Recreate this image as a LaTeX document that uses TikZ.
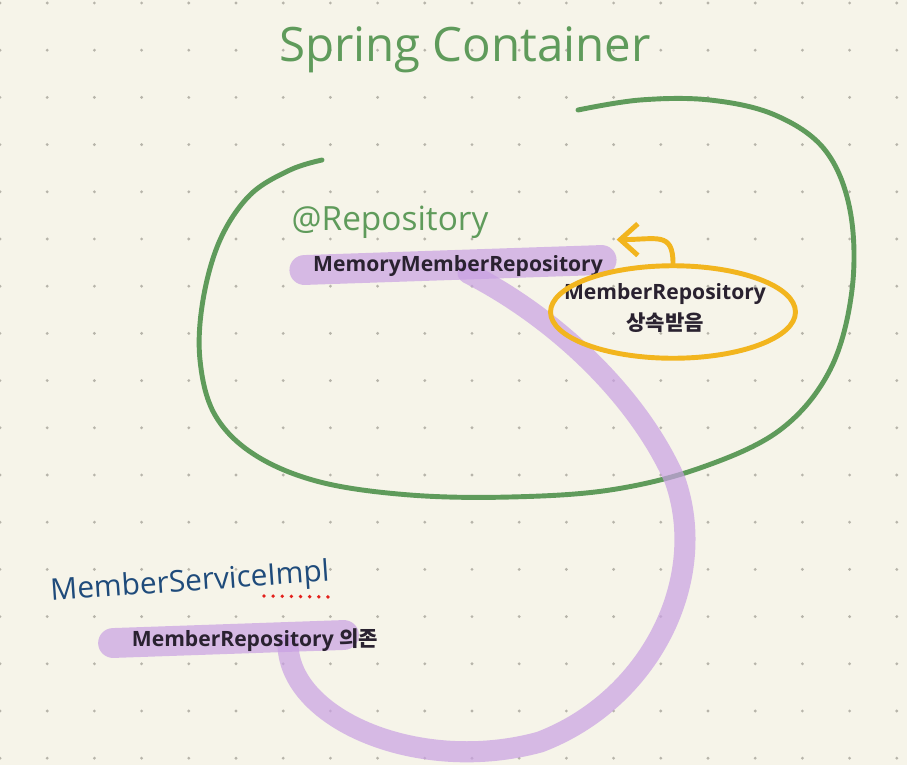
\documentclass[tikz,border=0pt]{standalone}
\usepackage{fontspec}
\setmainfont{Open Sans}
\newfontfamily\kofont{Noto Sans CJK KR}
\usetikzlibrary{arrows.meta,positioning,calc,shapes.geometric}
\definecolor{paper}{HTML}{F6F4E9}
\definecolor{griddot}{HTML}{B7B4AA}
\definecolor{springgreen}{HTML}{5F9B5B}
\definecolor{inkdark}{HTML}{2A2230}
\definecolor{hlpurple}{HTML}{C9A0E3}
\definecolor{inhyellow}{HTML}{F2B51E}
\definecolor{implblue}{HTML}{1F4B7B}
\definecolor{typored}{HTML}{E3201B}
\pgfdeclarelayer{paperlayer}
\pgfsetlayers{paperlayer,main}

\begin{document}
\begin{tikzpicture}[x=0.02cm,y=-0.02cm,
  ink/.style={text=inkdark,font=\bfseries\fontsize{12}{18}\selectfont,inner sep=2pt},
  hl/.style={draw=hlpurple,draw opacity=0.7,line cap=round},
  pen/.style={line width=2.8pt,line cap=round,line join=round}]
  \useasboundingbox (0,0) rectangle (907,765);

  % labels
  \node[font=\fontsize{27}{30}\selectfont,text=springgreen] (title) at (465,50) {Spring Container};
  \node[font=\fontsize{19}{22}\selectfont,text=springgreen] (repoTag) at (390,222) {@Repository};
  \node[ink] (memRepo) at (458,266) {MemoryMemberRepository};
  \node[ink,align=center] (inhText) at (665,308) {MemberRepository\\{\kofont 상속받음}};
  \node[font=\fontsize{17}{20}\selectfont,text=implblue,rotate=4] (svcImpl) at (190,583) {MemberServiceImpl};
  \node[ink] (depRepo) at (255,640) {MemberRepository {\kofont 의존}};

  % inherits MemberRepository
  \node[ellipse,draw=inhyellow,pen,minimum width=4.9cm,minimum height=1.85cm] (inhLoop) at (673,312) {};
  \draw[inhyellow,pen,-{Straight Barb[length=10pt,width=18pt]}] (inhLoop.north)
    .. controls +(0,-32) and +(40,0) .. ($(memRepo.north east)+(10,-12)$);

  % typo mark
  \draw[typored,line width=2.2pt,line cap=round,dash pattern=on 0pt off 5.2pt] (264,596) -- (334,597);

  \begin{pgfonlayer}{paperlayer}
    \fill[paper] (0,0) rectangle (907,765);
    \foreach \i in {0,...,19}
      \foreach \j in {0,...,16}
        \fill[griddot] (47.2*\i,3+47.2*\j) circle (0.9pt);

    % container
    \draw[springgreen,pen] plot[smooth,tension=0.6] coordinates {
      (322,160) (290,170) (250,195) (220,240) (203,300) (200,360) (215,415)
      (255,455) (320,482) (410,495) (510,497) (610,490) (700,468) (780,430)
      (830,370) (852,290) (850,210) (825,150) (775,115) (710,100) (640,100) (578,110)};

    % highlighter strokes
    \draw[hl,line width=17pt] ($(memRepo.west)+(-5,4)$) -- ($(memRepo.east)+(-5,-6)$);
    \draw[hl,line width=17pt] ($(depRepo.west)+(-15,3)$) -- ($(depRepo.east)+(-38,-5)$);

    % dependency
    \draw[hl,line width=12pt] ($(memRepo.center)+(10,7)$)
      .. controls (560,320) and (640,400) .. (675,480)
      .. controls (710,580) and (650,700) .. (540,742)
      .. controls (420,775) and (290,720) .. ($(depRepo.center)+(33,5)$);
  \end{pgfonlayer}
\end{tikzpicture}
\end{document}
